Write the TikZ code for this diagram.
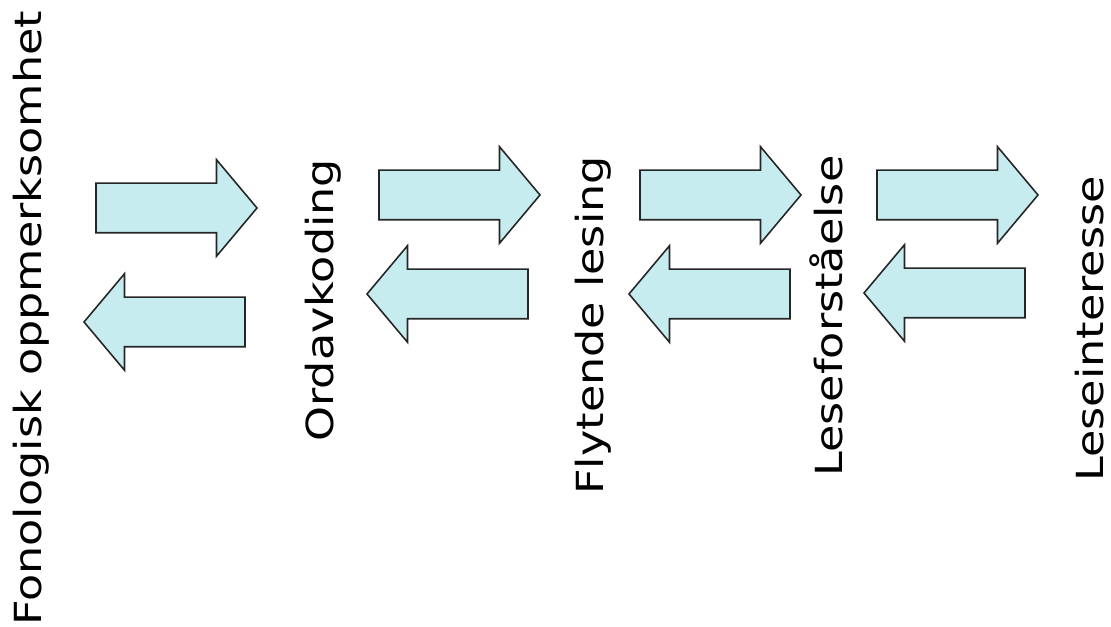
\documentclass[tikz,border=0pt]{standalone}
\usepackage{xcolor}
\usepackage{fontspec}
\setmainfont{DejaVu Sans}
\usepackage{tikz}
\usetikzlibrary{shapes,arrows}
\definecolor{pale}{RGB}{199,236,239}
\tikzstyle{every single arrow node}=[single arrow,draw=black!85,line width=0.9pt,fill=pale,minimum height=3.22cm,minimum width=1.9cm,inner xsep=0pt,inner ysep=0.48cm,outer sep=0pt,single arrow head extend=0.47cm,single arrow tip angle=100,anchor=tail]
\tikzstyle{stagelabel}=[rotate=90,yscale=0.84,anchor=base west,inner sep=0pt,font=\fontsize{25.3}{30}\selectfont]

\begin{document}
\begin{tikzpicture}
\useasboundingbox (0,0) rectangle (22.22,12.54);
\node[stagelabel] (fon) at (0.84,0.02) {Fonologisk oppmerksomhet};
\node[stagelabel] (ord) at (6.66,3.70) {Ordavkoding};
\node[stagelabel] (fly) at (12.06,2.64) {Flytende lesing};
\node[stagelabel] (fst) at (16.84,3.00) {Leseforståelse};
\node[stagelabel] (int) at (22.06,2.90) {Leseinteresse};
\node[single arrow] (fwda) at (1.92,8.38) {};
\node[single arrow] (fwdb) at (7.58,8.64) {};
\node[single arrow] (fwdc) at (12.80,8.64) {};
\node[single arrow] (fwdd) at (17.54,8.64) {};
\node[single arrow, shape border rotate=180] (bcka) at (4.90,6.10) {};
\node[single arrow, shape border rotate=180] (bckb) at (10.56,6.66) {};
\node[single arrow, shape border rotate=180] (bckc) at (15.80,6.66) {};
\node[single arrow, shape border rotate=180] (bckd) at (20.50,6.68) {};
\end{tikzpicture}
\end{document}
